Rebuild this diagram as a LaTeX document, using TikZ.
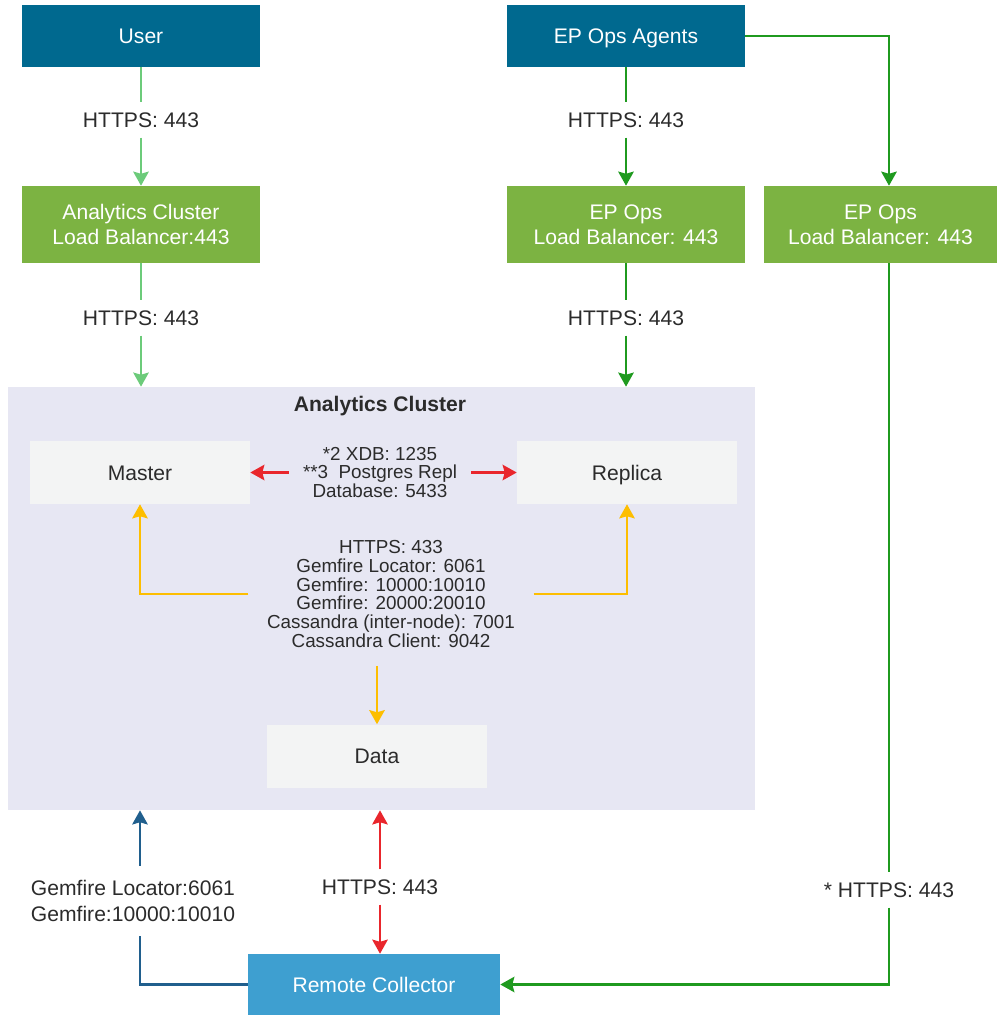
\documentclass[tikz,border=0pt]{standalone}
\usepackage{fontspec}
\setmainfont{Liberation Sans}
\usepackage{tikz}
\usetikzlibrary{arrows.meta,calc,positioning}

\definecolor{vmblue}{HTML}{00698F}
\definecolor{vmgreen}{HTML}{7CB342}
\definecolor{lgreen}{HTML}{6CCB7A}
\definecolor{dgreen}{HTML}{1F9A1F}
\definecolor{vmred}{HTML}{E9262C}
\definecolor{vmyellow}{HTML}{FDBE00}
\definecolor{lineblue}{HTML}{205F8D}
\definecolor{rcblue}{HTML}{3E9FD0}
\definecolor{clusterbg}{HTML}{E7E7F3}
\definecolor{nodebg}{HTML}{F3F4F4}
\definecolor{txt}{HTML}{2B2B2B}

\tikzset{%
	topbox/.style    = {rectangle, fill=vmblue, text=white, text height=13.7pt, text depth=3pt, minimum width=5.925cm, minimum height=1.55cm, font=\fontsize{15}{18}\selectfont},
	lbbox/.style     = {rectangle, fill=vmgreen, text=white, align=center, minimum width=5.925cm, minimum height=1.925cm, font=\fontsize{15}{18}\selectfont},
	inbox/.style     = {rectangle, fill=nodebg, text=txt, text height=13.7pt, text depth=3pt, minimum width=5.5cm, minimum height=1.575cm, font=\fontsize{15}{18}\selectfont},
	rcbox/.style     = {rectangle, fill=rcblue, text=white, text height=13.7pt, text depth=3pt, minimum width=6.3cm, minimum height=1.525cm, font=\fontsize{15}{18}\selectfont},
	clusterbox/.style= {rectangle, fill=clusterbg, minimum width=18.675cm, minimum height=10.575cm}, % Cluster
	portlabel/.style = {text=txt, align=center, inner ysep=7pt, font=\fontsize{15}{18.5}\selectfont},
	smalllabel/.style= {text=txt, align=center, font=\fontsize{13.4}{13.3}\selectfont},
	conn/.style      = {line width=1.6pt},
}

\begin{document}
\begin{tikzpicture}[x=0.025cm,y=-0.025cm,>={Stealth[length=10pt,width=11pt,inset=1.5pt]}]
	\useasboundingbox (0,0) rectangle (997,1015);
	% analytics cluster
	\node [clusterbox] (cl) at (381.5,598.5) {};
	\node [text=txt, font=\fontsize{15}{18}\selectfont\bfseries] (cltitle) at (380,406) {Analytics Cluster};
	
	\node [topbox] (user) at (141,36) {User};
	\node [topbox] (agents) at (626,36) {EP Ops Agents};
	\node [lbbox] (aclb) at (141,224.5) {Analytics Cluster\\Load Balancer:443};
	\node [lbbox] (eplb) at (626,224.5) {EP Ops\\Load Balancer: 443};
	\node [lbbox, minimum width=5.825cm] (eplbb) at (880.5,224.5) {EP Ops\\Load Balancer: 443};
	\node [inbox] (master) at (140,472.5) {Master};
	\node [inbox] (replica) at (627,472.5) {Replica};
	\node [inbox] (data) at (377,756) {Data};
	\node [rcbox] (rc) at (374,984.5) {Remote Collector};
	
	\node [portlabel] (u1) at (141,120) {HTTPS: 443};
	\node [portlabel] (u2) at (141,318) {HTTPS: 443};
	\node [portlabel] (a1) at (626,120) {HTTPS: 443};
	\node [portlabel] (a2) at (626,318) {HTTPS: 443};
	\node [smalllabel, inner xsep=10pt] (repl) at (380,472.5) {*2 XDB: 1235\\**3\ \ Postgres Repl\\Database: 5433};
	\node [smalllabel, inner sep=13pt] (ports) at (391,594) {HTTPS: 433\\Gemfire Locator: 6061\\Gemfire: 10000:10010\\Gemfire: 20000:20010\\Cassandra (inter-node): 7001\\Cassandra Client: 9042};
	\node [portlabel, inner ysep=10pt] (gem) at (133,901) {Gemfire Locator:6061\\Gemfire:10000:10010};
	\node [portlabel] (rc1) at (380,887) {HTTPS: 443};
	\node [portlabel] (ep3) at (889,890) {* HTTPS: 443};
	
	\draw [conn,lgreen] (user) -- (u1);
	\draw [conn,lgreen,->] (u1) -- (aclb);
	\draw [conn,lgreen] (aclb) -- (u2);
	\draw [conn,lgreen,->] (u2) -- (u2 |- cl.north);
	\draw [conn,dgreen] (agents) -- (a1);
	\draw [conn,dgreen,->] (a1) -- (eplb);
	\draw [conn,dgreen] (eplb) -- (a2);
	\draw [conn,dgreen,->] (a2) -- (a2 |- cl.north);
	\draw [conn,dgreen,->] (agents.east) -| (ep3 |- eplbb.north);
	\draw [conn,dgreen] (ep3 |- eplbb.south) -- (ep3);
	\draw [conn,dgreen,->] (ep3) |- (rc.east);
	
	\draw [conn,vmred,->] (repl) -- (master);
	\draw [conn,vmred,->] (repl) -- (replica);
	\draw [conn,vmyellow,->] (ports.west) -| (master);
	\draw [conn,vmyellow,->] (ports.east) -| (replica);
	\draw [conn,vmyellow,->] (ports.south -| data) -- (data);
	
	\draw [conn,lineblue,->] (gem.north -| master) -- (master |- cl.south);
	\draw [conn,lineblue] (rc.west) -| (gem.south -| master);
	\draw [conn,vmred,->] (rc1) -- (rc1 |- cl.south);
	\draw [conn,vmred,->] (rc1) -- (rc1 |- rc.north);
\end{tikzpicture}
\end{document}
